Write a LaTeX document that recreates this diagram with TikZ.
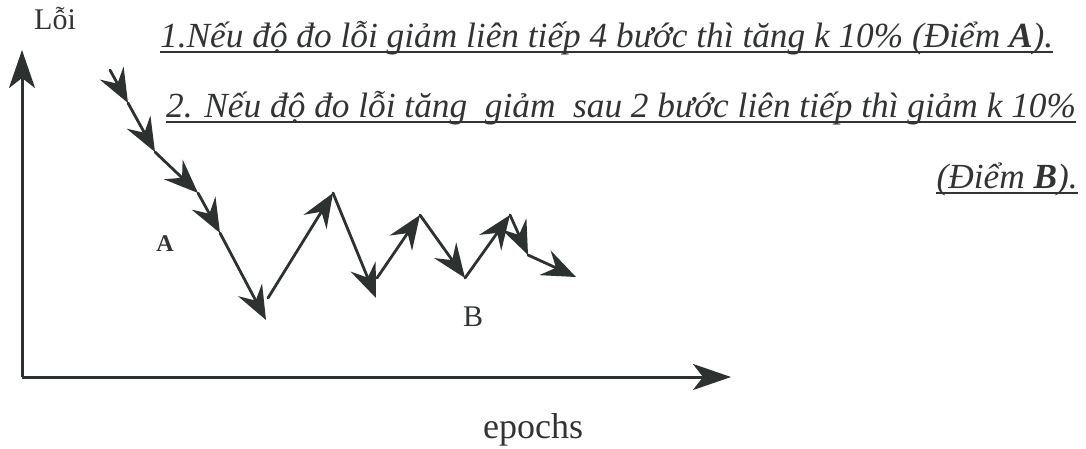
\documentclass[tikz,border=0pt]{standalone}
\usepackage{fontspec}
\setmainfont{Liberation Serif}
\usetikzlibrary{arrows.meta}
\definecolor{ink}{RGB}{45,50,48}
\definecolor{txtc}{RGB}{50,52,52}
\begin{document}
\begin{tikzpicture}[x=1pt,y=-1pt,
  axisline/.style={line width=3pt, draw=ink, -{Stealth[length=38pt,width=26pt,inset=10pt]}},
  seg/.style={line width=2.8pt, draw=ink, line cap=round, -{Stealth[length=34pt,width=27pt,inset=12pt]}},
  rule/.style={text=txtc, inner sep=0pt, font=\fontsize{35.3}{40}\selectfont\itshape},
  lab/.style={text=txtc, inner sep=0pt},
  uline/.style={draw=txtc, line width=1.6pt}
]
\useasboundingbox (0,0) rectangle (1086,448);
% axes
\coordinate (o) at (22,377);
\coordinate (ytop) at (22,50);
\coordinate (xend) at (731,377);
\draw[axisline] (o) -- (ytop);
\draw[axisline] (o) -- (xend);
\node[lab, font=\fontsize{30}{34}\selectfont, anchor=base west] (ylab) at (34,29) {Lỗi};
\node[lab, font=\fontsize{36}{40}\selectfont, anchor=base west] (xlab) at (483,438) {epochs};
% rules
\node[rule, anchor=base west] (l1) at (160,47) {1.Nếu độ đo lỗi giảm liên tiếp 4 bước thì tăng k 10\% (Điểm \textbf{A}).};
\draw[uline] ([yshift=-5pt]l1.base west) -- ([yshift=-5pt]l1.base east);
\node[rule, anchor=base west] (l2) at (166,117) {2. Nếu độ đo lỗi tăng~ giảm~ sau 2 bước liên tiếp thì giảm k 10\%};
\draw[uline] ([yshift=-5pt]l2.base west) -- ([yshift=-5pt]l2.base east);
\node[rule, anchor=base east] (l3) at (1078,188) {(Điểm \textbf{B}).};
\draw[uline] ([yshift=-5pt]l3.base west) -- ([yshift=-5pt]l3.base east);
% labels
\node[lab, font=\fontsize{24}{28}\selectfont\bfseries, anchor=base] (A) at (165,251) {A};
\node[lab, font=\fontsize{30}{34}\selectfont, anchor=base] (B) at (473,326) {B};
% path
\coordinate (p0) at (110,70);
\coordinate (p1) at (128,103);
\coordinate (p2) at (155,152);
\coordinate (p3) at (198,193);
\coordinate (p4) at (220,233);
\coordinate (p5) at (266,320);
\coordinate (q0) at (268,298);
\coordinate (q1) at (333,193);
\coordinate (q2) at (376,298);
\coordinate (r0) at (377,278);
\coordinate (r1) at (420,215);
\coordinate (r2) at (465,278);
\coordinate (r3) at (510,215);
\coordinate (r4) at (528,255);
\coordinate (r5) at (576,277);
\draw[seg] (p0) -- (p1);
\draw[seg] (p1) -- (p2);
\draw[seg] (p2) -- (p3);
\draw[seg] (p3) -- (p4);
\draw[seg] (p4) -- (p5);
\draw[seg] (q0) -- (q1);
\draw[seg] (q1) -- (q2);
\draw[seg] (r0) -- (r1);
\draw[seg] (r1) -- (r2);
\draw[seg] (r2) -- (r3);
\draw[seg] (r3) -- (r4);
\draw[seg] (r4) -- (r5);
\end{tikzpicture}
\end{document}
